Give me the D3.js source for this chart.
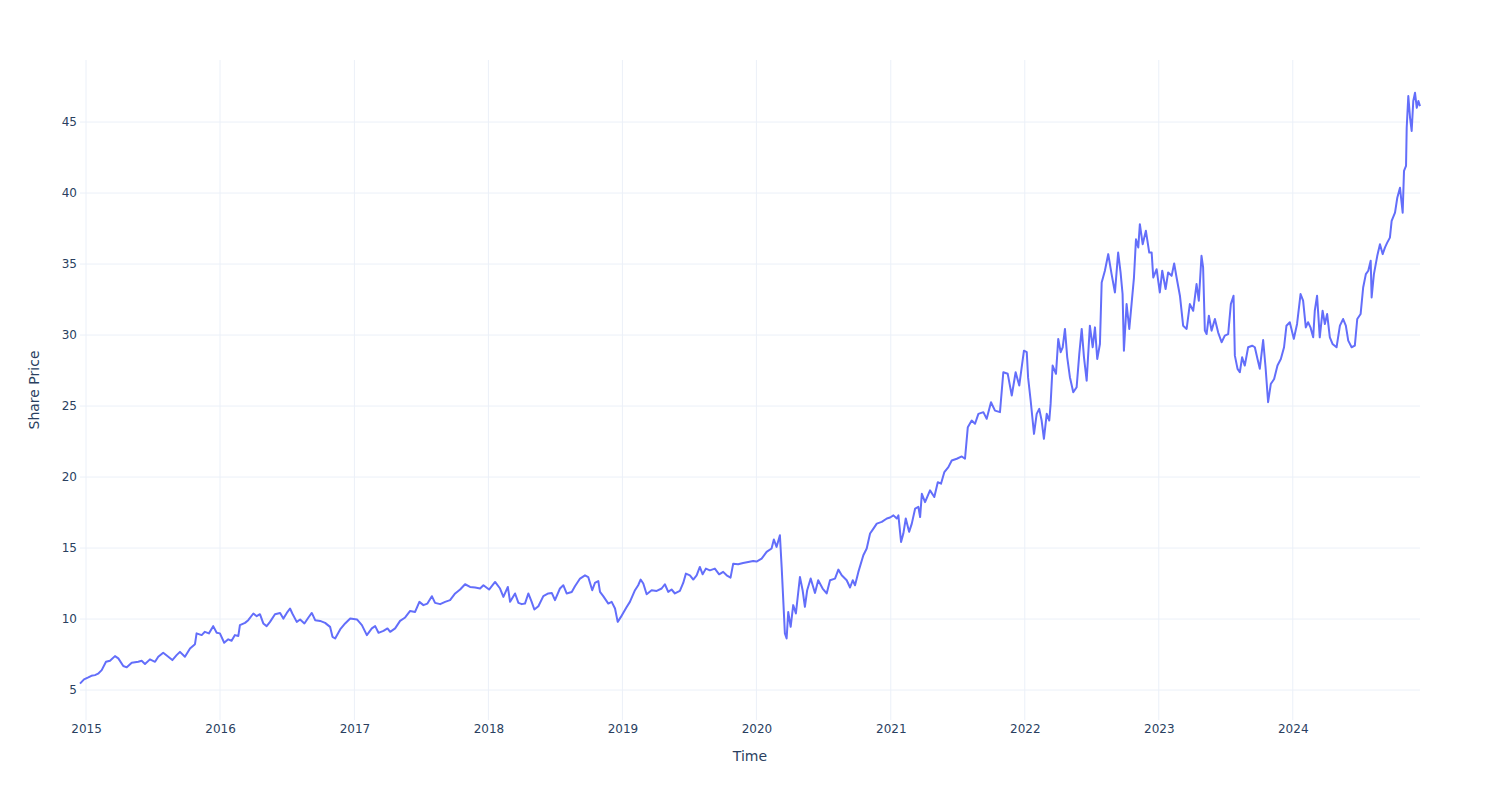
<!DOCTYPE html>
<html>
<head>
<meta charset="utf-8">
<script src="https://cdn.jsdelivr.net/npm/d3@7"></script>
<style>
  html, body { margin: 0; padding: 0; background: #fff; }
  svg { display: block; }
  text { font-family: "DejaVu Sans", Verdana, sans-serif; fill: #2a3f5f; }
</style>
</head>
<body>
<svg id="chart" width="1500" height="800"></svg>
<script>
// ---- data ----
const timeYears = [
2014.955,2014.985,2015.017,2015.040,2015.067,2015.090,2015.117,2015.149,2015.179,2015.216,2015.241,2015.278,2015.304,2015.341,2015.390,2015.415,2015.440,2015.477,2015.515,2015.539,2015.576,2015.614,2015.644,2015.676,2015.701,2015.738,2015.776,2015.813,2015.825,2015.863,2015.887,2015.917,2015.949,2015.975,2015.999,
2016.031,2016.061,2016.086,2016.111,2016.136,2016.148,2016.186,2016.210,2016.248,2016.273,2016.297,2016.322,2016.347,2016.372,2016.409,2016.447,2016.471,2016.497,2016.521,2016.538,2016.571,2016.596,2016.628,2016.658,2016.683,2016.708,2016.745,2016.782,2016.819,2016.837,2016.857,2016.894,2016.931,2016.969,
2017.019,2017.056,2017.093,2017.130,2017.155,2017.180,2017.217,2017.247,2017.267,2017.304,2017.341,2017.379,2017.416,2017.453,2017.485,2017.515,2017.545,2017.578,2017.602,2017.640,2017.677,2017.714,2017.752,2017.789,2017.826,2017.863,2017.901,2017.938,2017.963,
2018.005,2018.050,2018.087,2018.112,2018.145,2018.162,2018.199,2018.224,2018.249,2018.273,2018.298,2018.323,2018.343,2018.373,2018.410,2018.447,2018.473,2018.497,2018.534,2018.559,2018.584,2018.622,2018.646,2018.684,2018.721,2018.745,2018.775,2018.795,2018.820,2018.833,2018.857,2018.895,2018.920,2018.945,2018.965,2018.989,
2019.007,2019.032,2019.056,2019.094,2019.118,2019.136,2019.156,2019.181,2019.218,2019.256,2019.293,2019.317,2019.342,2019.367,2019.392,2019.429,2019.454,2019.474,2019.504,2019.529,2019.554,2019.578,2019.599,2019.623,2019.653,2019.690,2019.722,2019.752,2019.778,2019.807,2019.827,2019.864,2019.901,2019.939,2019.976,
2020.001,2020.039,2020.076,2020.113,2020.130,2020.150,2020.175,2020.188,2020.200,2020.212,2020.225,2020.237,2020.255,2020.274,2020.294,2020.324,2020.344,2020.361,2020.378,2020.404,2020.436,2020.460,2020.493,2020.523,2020.548,2020.585,2020.610,2020.635,2020.672,2020.697,2020.717,2020.734,2020.759,2020.796,2020.821,2020.846,2020.871,2020.896,2020.933,2020.971,
2020.995,2021.020,2021.045,2021.057,2021.077,2021.094,2021.112,2021.137,2021.157,2021.182,2021.206,2021.219,2021.232,2021.256,2021.293,2021.325,2021.351,2021.375,2021.400,2021.430,2021.455,2021.493,2021.530,2021.554,2021.575,2021.604,2021.629,2021.654,2021.691,2021.716,2021.748,2021.778,2021.815,2021.840,2021.873,2021.903,2021.932,2021.959,2021.977,2021.994,
2022.015,2022.025,2022.044,2022.069,2022.089,2022.108,2022.126,2022.143,2022.164,2022.183,2022.193,2022.208,2022.233,2022.250,2022.268,2022.283,2022.300,2022.317,2022.337,2022.362,2022.387,2022.407,2022.425,2022.442,2022.462,2022.486,2022.507,2022.524,2022.541,2022.561,2022.574,2022.598,2022.623,2022.648,2022.673,2022.697,2022.715,2022.730,2022.740,2022.760,2022.780,2022.797,2022.815,2022.830,2022.847,2022.859,2022.880,2022.904,2022.929,2022.947,2022.959,2022.984,
2023.008,2023.026,2023.051,2023.070,2023.096,2023.115,2023.133,2023.158,2023.182,2023.208,2023.232,2023.257,2023.282,2023.299,2023.319,2023.331,2023.344,2023.357,2023.374,2023.394,2023.419,2023.443,2023.469,2023.493,2023.518,2023.538,2023.558,2023.568,2023.588,2023.605,2023.622,2023.642,2023.667,2023.697,2023.717,2023.737,2023.754,2023.779,2023.797,2023.816,2023.836,2023.861,2023.886,2023.911,2023.935,2023.953,2023.978,
2024.008,2024.032,2024.058,2024.077,2024.097,2024.114,2024.132,2024.152,2024.164,2024.181,2024.201,2024.222,2024.239,2024.256,2024.276,2024.296,2024.326,2024.351,2024.375,2024.395,2024.413,2024.438,2024.462,2024.480,2024.505,2024.524,2024.544,2024.562,2024.580,2024.587,2024.604,2024.629,2024.649,2024.669,2024.686,2024.703,2024.723,2024.736,2024.761,2024.778,2024.798,2024.818,2024.828,2024.843,2024.848,2024.860,2024.873,2024.885,2024.897,2024.910,2024.923,2024.935,2024.947
];
const sharePrice = [
5.45,5.75,5.89,6.00,6.05,6.15,6.40,6.99,7.06,7.39,7.23,6.69,6.60,6.92,6.99,7.06,6.83,7.16,6.99,7.34,7.62,7.34,7.11,7.46,7.69,7.34,7.93,8.23,8.99,8.87,9.10,8.99,9.50,9.03,8.99,
8.33,8.57,8.47,8.87,8.80,9.57,9.73,9.92,10.39,10.20,10.34,9.69,9.50,9.80,10.34,10.43,10.03,10.43,10.74,10.39,9.80,9.97,9.69,10.11,10.43,9.92,9.87,9.73,9.45,8.75,8.63,9.27,9.69,10.04,
9.97,9.57,8.87,9.34,9.50,9.03,9.17,9.34,9.10,9.34,9.87,10.11,10.57,10.50,11.21,10.98,11.09,11.61,11.14,11.05,11.21,11.33,11.80,12.08,12.45,12.26,12.22,12.15,12.38,
12.08,12.61,12.15,11.56,12.26,11.21,11.80,11.14,11.05,11.09,11.80,11.21,10.67,10.90,11.61,11.80,11.84,11.33,12.15,12.38,11.80,11.91,12.31,12.85,13.08,12.96,12.03,12.54,12.68,11.91,11.61,11.09,11.21,10.74,9.80,10.15,
10.45,10.85,11.21,12.03,12.38,12.78,12.50,11.75,12.03,11.98,12.15,12.45,11.91,12.08,11.80,11.98,12.54,13.20,13.08,12.78,13.08,13.67,13.15,13.55,13.43,13.55,13.15,13.32,13.08,12.92,13.90,13.86,13.95,14.02,14.09,
14.05,14.26,14.73,14.97,15.60,15.08,15.90,13.67,11.33,8.99,8.63,10.50,9.45,10.98,10.39,12.96,12.03,10.86,12.03,12.85,11.84,12.73,12.15,11.80,12.73,12.85,13.48,13.08,12.73,12.22,12.73,12.38,13.32,14.49,14.97,16.02,16.37,16.72,16.84,17.08,
17.15,17.30,17.08,17.30,15.43,16.02,17.08,16.14,16.72,17.78,17.90,17.18,18.82,18.23,19.06,18.59,19.64,19.53,20.35,20.70,21.17,21.29,21.45,21.29,23.51,23.98,23.75,24.45,24.57,24.10,25.27,24.68,24.57,27.38,27.27,25.74,27.38,26.44,27.73,28.90,
28.79,27.00,25.39,23.04,24.45,24.80,23.98,22.69,24.45,23.98,25.15,27.85,27.27,29.73,28.79,29.14,30.43,28.43,27.03,25.97,26.32,28.67,30.43,28.43,26.79,30.66,29.14,30.54,28.31,29.37,33.70,34.53,35.70,34.29,33.00,35.81,34.41,32.89,28.90,32.18,30.43,32.18,34.05,36.75,36.16,37.81,36.40,37.34,35.81,35.81,34.05,34.64,
33.00,34.53,33.24,34.41,34.17,35.04,34.05,32.77,30.66,30.43,32.18,31.71,33.59,32.42,35.58,34.76,30.31,30.07,31.36,30.31,31.13,30.19,29.49,29.96,30.07,32.18,32.77,28.55,27.62,27.38,28.43,27.85,29.14,29.25,29.14,28.31,27.62,29.65,27.73,25.27,26.55,26.91,27.85,28.31,29.14,30.66,30.90,
29.73,30.78,32.89,32.42,30.54,30.90,30.54,29.84,31.71,32.77,29.84,31.71,30.78,31.48,29.84,29.37,29.14,30.66,31.13,30.66,29.61,29.14,29.25,31.13,31.48,33.35,34.29,34.53,35.23,32.65,34.29,35.58,36.40,35.70,36.16,36.51,36.86,38.04,38.62,39.67,40.38,38.62,41.56,41.91,44.60,46.83,45.30,44.37,46.48,47.06,46.00,46.48,46.12
];
const xTickLabels = ["2015","2016","2017","2018","2019","2020","2021","2022","2023","2024"];
const yTickValues = [5, 10, 15, 20, 25, 30, 35, 40, 45];
const yRange = [2.89, 49.37];
const xAxisTitle = "Time";
const yAxisTitle = "Share Price";

// ---- helpers ----
function yearToDate(v) {
  const y = Math.floor(v);
  const s = Date.UTC(y, 0, 1), e = Date.UTC(y + 1, 0, 1);
  return new Date(s + (v - y) * (e - s));
}
const data = timeYears.map((t, i) => ({ date: yearToDate(t), value: sharePrice[i] }));

// ---- layout ----
const W = 1500, H = 800;
const margin = { top: 60, right: 80, bottom: 80, left: 80 };
const svg = d3.select("#chart");

const x = d3.scaleUtc()
  .domain(d3.extent(data, d => d.date))
  .range([margin.left, W - margin.right]);
const y = d3.scaleLinear()
  .domain(yRange)
  .range([H - margin.bottom, margin.top]);

// gridlines
const xTicks = xTickLabels.map(s => new Date(Date.UTC(+s, 0, 1)));
svg.append("g").selectAll("line").data(xTicks).join("line")
  .attr("x1", d => x(d)).attr("x2", d => x(d))
  .attr("y1", margin.top).attr("y2", H - margin.bottom)
  .attr("stroke", "#ebf0f8").attr("stroke-width", 1);
svg.append("g").selectAll("line").data(yTickValues).join("line")
  .attr("x1", margin.left).attr("x2", W - margin.right)
  .attr("y1", d => y(d)).attr("y2", d => y(d))
  .attr("stroke", "#ebf0f8").attr("stroke-width", 1);

// axes (labels only, as in the reference)
const xAxis = d3.axisBottom(x).tickValues(xTicks)
  .tickFormat(d3.utcFormat("%Y")).tickSize(0).tickPadding(4);
const gx = svg.append("g").attr("transform", `translate(0,${H - margin.bottom})`).call(xAxis);
gx.select(".domain").remove();
gx.selectAll("text").style("font-family", '"DejaVu Sans", Verdana, sans-serif')
  .style("font-size", "12px").attr("fill", "#2a3f5f");

const yAxis = d3.axisLeft(y).tickValues(yTickValues).tickSize(0).tickPadding(3);
const gy = svg.append("g").attr("transform", `translate(${margin.left},0)`).call(yAxis);
gy.select(".domain").remove();
gy.selectAll("text").style("font-family", '"DejaVu Sans", Verdana, sans-serif')
  .style("font-size", "12px").attr("fill", "#2a3f5f");

// line
const line = d3.line().x(d => x(d.date)).y(d => y(d.value));
svg.append("path").datum(data)
  .attr("d", line)
  .attr("fill", "none")
  .attr("stroke", "#636efa")
  .attr("stroke-width", 2)
  .attr("stroke-linejoin", "round");

// titles
svg.append("text")
  .attr("x", (margin.left + W - margin.right) / 2)
  .attr("y", 761)
  .attr("text-anchor", "middle")
  .style("font-size", "14px")
  .text(xAxisTitle);
svg.append("text")
  .attr("transform", `translate(39,${(margin.top + H - margin.bottom) / 2}) rotate(-90)`)
  .attr("text-anchor", "middle")
  .style("font-size", "14px")
  .text(yAxisTitle);
</script>
</body>
</html>
